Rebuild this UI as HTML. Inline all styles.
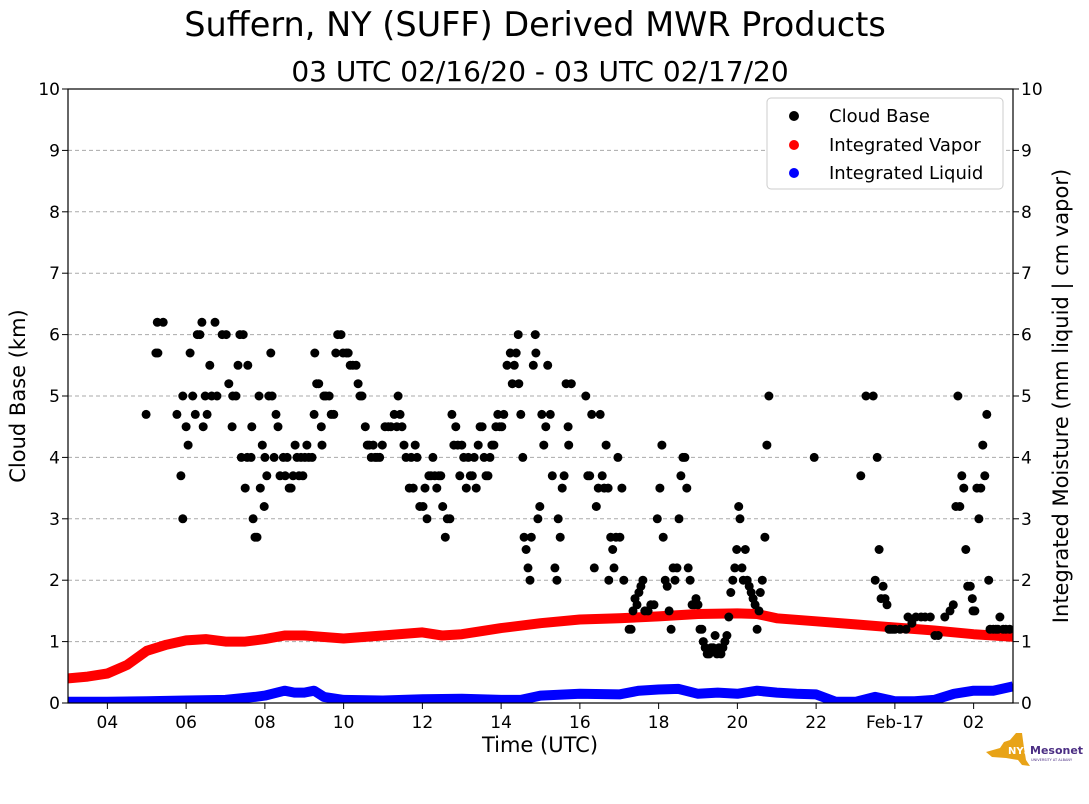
<!DOCTYPE html>
<html><head><meta charset="utf-8"><style>
body{margin:0;background:#fff;}
svg{display:block;font-family:"DejaVu Sans","Liberation Sans",sans-serif;}
</style></head><body>
<svg id="chart" width="1089" height="804" viewBox="0 0 1089 804" xmlns="http://www.w3.org/2000/svg">
<defs><clipPath id="pc"><rect x="68" y="89" width="945" height="614"/></clipPath></defs>
<rect width="1089" height="804" fill="#fff"/>
<text x="535" y="36" font-size="33.5" text-anchor="middle">Suffern, NY (SUFF) Derived MWR Products</text>
<text x="540" y="81" font-size="28" text-anchor="middle">03 UTC 02/16/20 - 03 UTC 02/17/20</text>
<g id="grid"></g>
<g id="series" clip-path="url(#pc)"></g>
<rect x="68" y="89" width="945" height="614" fill="none" stroke="#000" stroke-width="1.2"/>
<g id="axes"></g>
<text x="540" y="752" font-size="21" text-anchor="middle">Time (UTC)</text>
<text transform="translate(25,396) rotate(-90)" font-size="21" text-anchor="middle">Cloud Base (km)</text>
<text transform="translate(1068,396) rotate(-90)" font-size="21" text-anchor="middle">Integrated Moisture (mm liquid | cm vapor)</text>
<g>
<rect x="767" y="98" width="236" height="91" rx="4" fill="#fff" stroke="#ccc"/>
<circle cx="794" cy="116" r="5" fill="#000"/><text x="829" y="122" font-size="18">Cloud Base</text>
<circle cx="794" cy="145" r="5" fill="#f00"/><text x="829" y="151" font-size="18">Integrated Vapor</text>
<circle cx="794" cy="173" r="5" fill="#00f"/><text x="829" y="179" font-size="18">Integrated Liquid</text>
</g>
<g>
<path d="M986 752 L1000 748 L1004 742 L1010 740 L1016 733 L1022 733 L1024 748 L1026 760 L1030 766 L1022 765 L1018 760 L1006 758 L992 757 Z" fill="#e8a317"/>
<text x="1008" y="754" font-size="10" font-weight="bold" fill="#fff">NYS</text>
<text x="1030" y="754" font-size="11" font-weight="bold" fill="#4b2e83">Mesonet</text>
<text x="1031" y="761" font-size="3.5" fill="#4b2e83">UNIVERSITY AT ALBANY</text>
</g>
</svg>
<script>
const cbMin=[119,134,136,145,137,166,172,175,175,180,183,186,190,194,197,201,204,206,209,212,216,219,224,227,235,241,245,250,251,256,259,262,267,264,270,273,274,279,280,282,285,288,291,293,296,299,300,303,306,309,311,314,317,320,323,328,331,334,337,340,343,346,349,352,355,358,361,364,367,372,375,376,379,382,386,387,390,393,398,401,405,408,411,416,419,424,427,430,434,439,442,445,448,453,456,459,462,465,468,471,475,479,483,488,492,497,501,503,506,509,512,515,520,523,526,529,532,536,541,544,547,550,553,556,559,562,565,568,571,575,578,582,585,588,591,594,597,600,603,607,610,613,616,619,622,625,628,631,634,637,640,643,646,649,652,655,658,661,664,669,674,677,680,683,686,687,690,693,695,698,701,704,706,709,712,713,716,719,722,725,728,731,735,738,742,745,747,750,753,756,759,762,763,767,789,792,795,798,802,805,808,811,814,817,820,823,824,827,830,832,835,838,841,844,847,855,858,861,864,867,870,873,876,879,884,888,893,898,902,905,907,910,913,916,919,922,925,928,931,934,937,940,943,945,948,951,954,957,960,963,966,968,971,974,977,980,983,986,989,992,995,998,1001,1004,1007,1010,1013,1016,1019,1022,1024,1027,1029,1032,1035,1038,1041,1044,1047,1050,1053,1055,1058,1062,1065,1068,1137,1208,1216,1227,1230,1233,1236,1239,1242,1245,1248,1251,1254,1257,1260,1268,1277,1280,1286,1292,1300,1306,1314,1321,1326,1336,1344,1349,1353,1356,1359,1362,1365,1368,1371,1375,1378,1379,1382,1385,1388,1391,1394,1397,1400,1403,1405,1410,1414,1417,1420,1425,1429,1435];
const cbKm=[4.7,5.7,6.2,6.2,5.7,4.7,3.7,3.0,5.0,4.5,4.2,5.7,5.0,4.7,6.0,6.0,6.2,4.5,5.0,4.7,5.5,5.0,6.2,5.0,6.0,6.0,5.2,4.5,5.0,5.0,5.5,6.0,6.0,4.0,3.5,4.0,5.5,4.0,4.5,3.0,2.7,2.7,5.0,3.5,4.2,3.2,4.0,3.7,5.0,5.7,5.0,4.0,4.7,4.5,3.7,4.0,3.7,4.0,3.5,3.5,3.7,4.2,4.0,3.7,4.0,3.7,4.0,4.2,4.0,4.0,4.7,5.7,5.2,5.2,4.5,4.2,5.0,5.0,5.0,4.7,4.7,5.7,6.0,6.0,5.7,5.7,5.7,5.5,5.5,5.5,5.2,5.0,5.0,4.5,4.2,4.2,4.0,4.2,4.0,4.0,4.0,4.2,4.5,4.5,4.5,4.7,4.5,5.0,4.7,4.5,4.2,4.0,3.5,4.0,3.5,4.2,4.0,3.2,3.2,3.5,3.0,3.7,3.7,4.0,3.7,3.5,3.7,3.7,3.2,2.7,3.0,3.0,4.7,4.2,4.5,4.2,3.7,4.2,4.0,3.5,4.0,3.7,3.7,4.0,3.5,4.2,4.5,4.5,4.0,3.7,3.7,4.0,4.2,4.2,4.5,4.7,4.5,4.5,4.7,5.5,5.7,5.2,5.5,5.7,6.0,5.2,4.7,4.0,2.7,2.5,2.2,2.0,2.7,5.5,6.0,5.7,3.0,3.2,4.7,4.2,4.5,5.5,4.7,3.7,2.2,2.0,3.0,2.7,3.5,3.7,5.2,4.5,4.2,5.2,5.0,3.7,3.7,4.7,2.2,3.2,3.5,4.7,3.7,3.5,4.2,3.5,2.0,2.7,2.5,2.2,2.7,4.0,2.7,3.5,2.0,1.2,1.2,1.5,1.7,1.6,1.8,1.9,2.0,1.5,1.5,1.6,1.6,3.0,3.5,4.2,2.7,2.0,1.9,1.5,1.2,2.2,2.0,2.2,3.0,3.7,4.0,4.0,3.5,2.2,2.0,1.6,1.6,1.7,1.6,1.2,1.2,1.0,0.9,0.8,0.8,0.9,0.9,1.1,0.8,0.9,0.8,0.9,1.0,1.1,1.4,1.8,2.0,2.2,2.5,3.2,3.0,2.2,2.0,2.5,2.0,1.9,1.8,1.7,1.6,1.2,1.5,1.8,2.0,2.7,4.2,5.0,4.0,3.7,5.0,5.0,2.0,4.0,2.5,1.7,1.9,1.7,1.6,1.2,1.2,1.2,1.2,1.2,1.2,1.4,1.3,1.4,1.4,1.4,1.4,1.1,1.1,1.4,1.5,1.6,3.2,5.0,3.2,3.7,3.5,2.5,1.9,1.9,1.7,1.5,1.5,3.5,3.0,3.5,4.2,3.7,4.7,2.0,1.2,1.2,1.2,1.2,1.4,1.2,1.2,1.2];
const vapMin=[0,30,60,90,120,150,180,210,240,270,300,330,360,420,480,540,570,600,660,720,780,840,900,960,1020,1050,1080,1140,1200,1260,1320,1380,1440];
const vapVal=[0.4,0.43,0.48,0.62,0.85,0.95,1.02,1.04,1.0,1.0,1.04,1.1,1.1,1.05,1.1,1.15,1.1,1.12,1.22,1.3,1.36,1.38,1.41,1.45,1.46,1.45,1.38,1.33,1.28,1.23,1.18,1.12,1.08];
const liqMin=[0,60,120,180,240,285,300,330,345,360,375,390,420,480,540,600,660,690,720,780,840,870,900,930,960,990,1020,1050,1080,1110,1140,1170,1200,1230,1260,1290,1320,1350,1380,1410,1440];
const liqVal=[0.02,0.02,0.03,0.04,0.05,0.1,0.12,0.2,0.17,0.17,0.2,0.1,0.05,0.04,0.06,0.07,0.05,0.05,0.12,0.15,0.14,0.2,0.22,0.23,0.15,0.17,0.15,0.2,0.17,0.15,0.14,0.02,0.02,0.1,0.03,0.03,0.05,0.15,0.2,0.2,0.27];
const xTicks=["04","06","08","10","12","14","16","18","20","22","Feb-17","02"];
const xTickMin=[60,180,300,420,540,660,780,900,1020,1140,1260,1380];
const yTicks=[0,1,2,3,4,5,6,7,8,9,10];

const NS="http://www.w3.org/2000/svg";
const X0=68,X1=1013,Y0=703,Y1=89;
const sx=m=>X0+(m/1440)*(X1-X0);
const sy=v=>Y0-(v/10)*(Y0-Y1);
function mk(tag,attrs,parent){const e=document.createElementNS(NS,tag);for(const k in attrs)e.setAttribute(k,attrs[k]);parent.appendChild(e);return e;}
const grid=document.getElementById('grid'),axes=document.getElementById('axes'),series=document.getElementById('series');
yTicks.forEach(v=>{
  if(v>0&&v<10){const g=mk('line',{x1:X0,x2:X1,y1:sy(v),y2:sy(v),stroke:'#aaa','stroke-dasharray':'4,3','stroke-width':1},grid);
  
  }
  [[X0,-6,'end',X0-8],[X1,6,'start',X1+8]].forEach(([x,d,a,tx])=>{
    mk('line',{x1:x,x2:x+d,y1:sy(v),y2:sy(v),stroke:'#000'},axes);
    const t=mk('text',{x:tx,y:sy(v)+6,'font-size':17,'text-anchor':a},axes);t.textContent=v;
    
    
  });
});
xTicks.forEach((lab,i)=>{
  const x=sx(xTickMin[i]);
  mk('line',{x1:x,x2:x,y1:Y0,y2:Y0+6,stroke:'#000'},axes);
  const t=mk('text',{x:x,y:Y0+25,'font-size':17,'text-anchor':'middle'},axes);t.textContent=lab;
  
  
});
function band(mins,vals,color,name){
  const d=mins.map((m,i)=>(i?'L':'M')+sx(m).toFixed(1)+' '+sy(vals[i]).toFixed(1)).join(' ');
  const p=mk('path',{d:d,fill:'none',stroke:color,'stroke-width':10,'stroke-linejoin':'round','stroke-linecap':'butt'},series);
  
  
}
band(vapMin,vapVal,'#f00','integrated-vapor-series');
band(liqMin,liqVal,'#00f','integrated-liquid-series');
cbMin.forEach((m,i)=>{
  const c=mk('circle',{cx:sx(m).toFixed(1),cy:sy(cbKm[i]).toFixed(1),r:4.5,fill:'#000'},series);
  
  
});
</script>
</body></html>
